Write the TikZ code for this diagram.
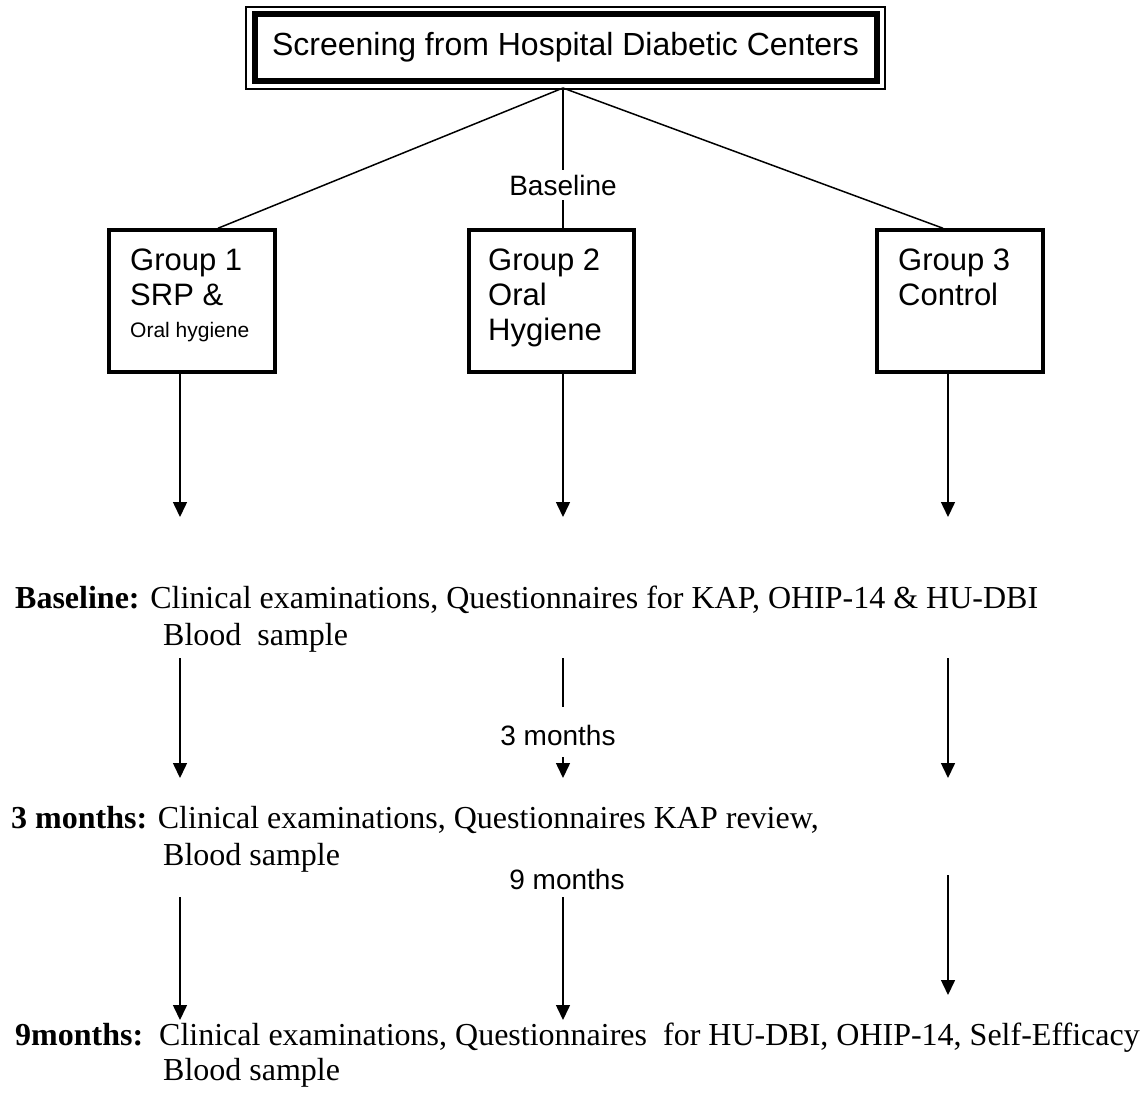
\documentclass[tikz,border=0pt]{standalone}
\usepackage{fontspec}
\setmainfont{Liberation Serif}
\newfontfamily\arialf{Liberation Sans}
\usetikzlibrary{arrows.meta,calc}
\begin{document}
\begin{tikzpicture}[x=1pt,y=-1pt,
  conn/.style={line width=1.5pt},
  arr/.style={line width=1.5pt,-{Triangle[width=14pt,length=15pt]}},
  gbox/.style={draw,line width=3.5pt,minimum height=142pt,inner sep=0pt},
  gtxt/.style={anchor=base west,inner sep=0pt,font=\arialf\fontsize{31}{35}\selectfont},
  gsmall/.style={anchor=base west,inner sep=0pt,font=\arialf\fontsize{21}{25}\selectfont},
  lbl/.style={inner sep=5pt,font=\arialf\fontsize{28}{32}\selectfont},
  rowtxt/.style={anchor=base west,inner sep=0pt,font=\fontsize{32}{37}\selectfont}]
\fill[white] (0,0) rectangle (1147,1093);
% top box
\node[draw,line width=1.5pt,minimum width=639pt,minimum height=82pt,inner sep=0pt] (topout) at (565.5,48) {};
\node[draw,line width=6pt,minimum width=622pt,minimum height=67pt,inner sep=0pt,font=\arialf\fontsize{32}{38}\selectfont] (top) at (565.5,47.5) {Screening from Hospital Diabetic Centers};
% groups
\node[gbox,minimum width=166pt] (g1) at (192,301) {};
\node[gbox,minimum width=165pt] (g2) at (551.5,301) {};
\node[gbox,minimum width=166pt] (g3) at (960,301) {};
\node[gtxt] (g1a) at (130,270) {Group 1};
\node[gtxt] (g1b) at (130,305) {SRP \&};
\node[gsmall] (g1c) at (130,337) {Oral hygiene};
\node[gtxt] (g2a) at (488,270) {Group 2};
\node[gtxt] (g2b) at (488,305) {Oral};
\node[gtxt] (g2c) at (488,340) {Hygiene};
\node[gtxt] (g3a) at (898,270) {Group 3};
\node[gtxt] (g3b) at (898,305) {Control};
% connectors from top
\coordinate (hub) at (563,88);
\node[lbl] (bl) at (563,185) {Baseline};
\draw[conn] (hub) -- ($(g1.north)+(26,0)$);
\draw[conn] (hub) -- ($(g3.north)+(-17,0)$);
\draw[conn] (hub) -- (bl.north);
\draw[conn] (bl.south) -- (bl.south |- g2.north);
% row A arrows
\coordinate (a1) at (180,517);
\coordinate (a2) at (563,517);
\coordinate (a3) at (948,517);
\draw[arr] (g1.south -| a1) -- (a1);
\draw[arr] (g2.south -| a2) -- (a2);
\draw[arr] (g3.south -| a3) -- (a3);
% row texts
\node[rowtxt] (r1) at (15,608) {\textbf{Baseline:} Clinical examinations, Questionnaires for KAP, OHIP-14 \& HU-DBI};
\node[rowtxt] (r1b) at (163,645) {Blood\ \ sample};
\node[rowtxt] (r2) at (11,828) {\textbf{3 months:} Clinical examinations, Questionnaires KAP review,};
\node[rowtxt] (r2b) at (163,865) {Blood sample};
\node[rowtxt] (r3) at (15,1045) {\textbf{9months:}\ \ Clinical examinations, Questionnaires\ \ for HU-DBI, OHIP-14, Self-Efficacy};
\node[rowtxt] (r3b) at (163,1080) {Blood sample};
% row B
\coordinate (b1s) at (180,658); \coordinate (b1e) at (180,778);
\coordinate (b2s) at (563,658); \coordinate (b2m) at (563,707);
\coordinate (b2n) at (563,757); \coordinate (b2e) at (563,778);
\coordinate (b3s) at (948,658); \coordinate (b3e) at (948,778);
\node[lbl] (m3) at (558,735) {3 months};
\draw[arr] (b1s) -- (b1e);
\draw[conn] (b2s) -- (b2m);
\draw[arr] (b2n) -- (b2e);
\draw[arr] (b3s) -- (b3e);
% row C
\node[lbl] (m9) at (567,879) {9 months};
\coordinate (c1s) at (180,897); \coordinate (c1e) at (180,1020);
\coordinate (c2s) at (563,897); \coordinate (c2e) at (563,1020);
\coordinate (c3s) at (948,875); \coordinate (c3e) at (948,995);
\draw[arr] (c1s) -- (c1e);
\draw[arr] (c2s) -- (c2e);
\draw[arr] (c3s) -- (c3e);
\end{tikzpicture}
\end{document}
